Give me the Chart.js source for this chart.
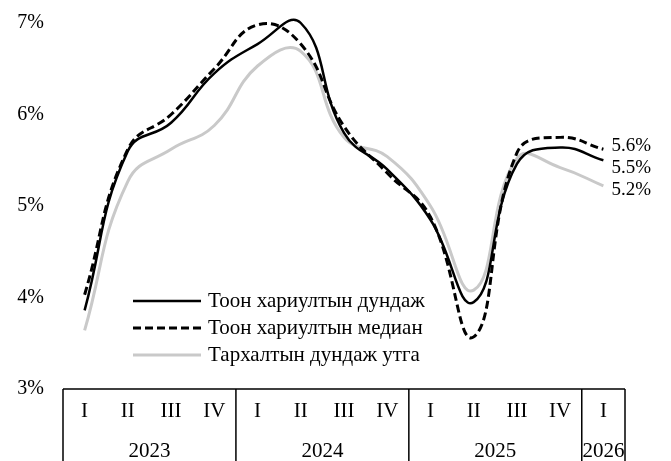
<!DOCTYPE html>
<html>
<head>
<meta charset="utf-8">
<script src="https://cdn.jsdelivr.net/npm/chart.js@4"></script>
<style>
  html, body { margin: 0; padding: 0; background: #fff; }
  #wrap { width: 671px; height: 461px; }
</style>
</head>
<body>
<div id="wrap"><canvas id="expChart" width="671" height="461"></canvas></div>
<script>
// Улирал, он
const quarters = ['I', 'II', 'III', 'IV', 'I', 'II', 'III', 'IV', 'I', 'II', 'III', 'IV', 'I'];
const years = [
    { label: '2023', from: 0, to: 3 },
    { label: '2024', from: 4, to: 7 },
    { label: '2025', from: 8, to: 11 },
    { label: '2026', from: 12, to: 12 }
];
const yTicks = [3, 4, 5, 6, 7];

// Цувралууд (%)
const meanValues   = [3.86, 5.60, 5.91, 6.45, 6.77, 7.00, 5.80, 5.40, 4.85, 3.95, 5.46, 5.64, 5.50];
const medianValues = [4.03, 5.62, 6.00, 6.50, 6.98, 6.77, 5.87, 5.36, 4.88, 3.57, 5.58, 5.75, 5.62];
const distValues   = [3.64, 5.27, 5.62, 5.88, 6.53, 6.69, 5.75, 5.54, 5.00, 4.08, 5.52, 5.42, 5.22];

const seriesNames = ['Тоон хариултын дундаж', 'Тоон хариултын медиан', 'Тархалтын дундаж утга'];

const SERIF = '"Liberation Serif", "Times New Roman", serif';

// x тэнхлэгийн хүснэгт, легенд, төгсгөлийн шошго
const tablePlugin = {
    id: 'tablePlugin',
    afterDraw(chart) {
        const ctx = chart.ctx;
        const x = chart.scales.x;
        const area = chart.chartArea;
        const half = (x.getPixelForValue(1) - x.getPixelForValue(0)) / 2;
        const bottom = chart.height;

        ctx.save();
        ctx.strokeStyle = '#000';
        ctx.lineWidth = 1.5;
        ctx.beginPath();
        ctx.moveTo(area.left, area.bottom);
        ctx.lineTo(area.right, area.bottom);
        years.forEach(function(y) {
            const l = x.getPixelForValue(y.from) - half;
            const r = x.getPixelForValue(y.to) + half;
            ctx.moveTo(l, area.bottom);
            ctx.lineTo(l, bottom);
            ctx.moveTo(r, area.bottom);
            ctx.lineTo(r, bottom);
        });
        ctx.stroke();

        ctx.fillStyle = '#000';
        ctx.font = '21px ' + SERIF;
        ctx.textAlign = 'center';
        ctx.textBaseline = 'middle';
        quarters.forEach(function(q, i) {
            ctx.fillText(q, x.getPixelForValue(i), area.bottom + 22);
        });
        years.forEach(function(y) {
            const c = (x.getPixelForValue(y.from) + x.getPixelForValue(y.to)) / 2;
            ctx.fillText(y.label, c, area.bottom + 62);
        });

        // Легенд
        ctx.textAlign = 'left';
        chart.data.datasets.forEach(function(ds, i) {
            const ly = 301 + i * 27;
            ctx.strokeStyle = ds.borderColor;
            ctx.lineWidth = ds.borderWidth;
            ctx.setLineDash(ds.borderDash || []);
            ctx.beginPath();
            ctx.moveTo(133, ly);
            ctx.lineTo(201, ly);
            ctx.stroke();
            ctx.setLineDash([]);
            ctx.fillText(ds.label, 208, ly);
        });

        // Сүүлийн утгын шошго
        ctx.font = '19px ' + SERIF;
        const last = quarters.length - 1;
        const ends = chart.data.datasets.map(function(ds, i) {
            const meta = chart.getDatasetMeta(i);
            return { v: ds.data[last], y: meta.data[last].y, x: meta.data[last].x };
        }).sort(function(a, b) { return a.y - b.y; });
        let prev = -Infinity;
        ends.forEach(function(e) {
            let ty = Math.max(e.y - 3, prev + 22);
            prev = ty;
            ctx.fillText(e.v.toFixed(1) + '%', e.x + 8, ty);
        });
        ctx.restore();
    }
};

const ctx = document.getElementById('expChart').getContext('2d');

new Chart(ctx, {
    type: 'line',
    data: {
        labels: quarters,
        datasets: [{
            label: seriesNames[0],
            data: meanValues,
            borderColor: '#000000',
            borderWidth: 2.5,
            tension: 0.45,
            clip: false
        }, {
            label: seriesNames[1],
            data: medianValues,
            borderColor: '#000000',
            borderWidth: 3,
            borderDash: [8, 4],
            tension: 0.45,
            clip: false
        }, {
            label: seriesNames[2],
            data: distValues,
            borderColor: '#c9c9c9',
            borderWidth: 3,
            tension: 0.45,
            clip: false
        }]
    },
    options: {
        responsive: false,
        animation: false,
        layout: {
            padding: { top: 16, right: 46, left: 0, bottom: 0 }
        },
        elements: {
            point: { radius: 0 },
            line: { capBezierPoints: false }
        },
        plugins: {
            legend: { display: false },
            tooltip: { enabled: false }
        },
        scales: {
            x: {
                offset: true,
                grid: { display: false },
                border: { display: false },
                ticks: { display: false },
                afterFit: function(scale) { scale.height = 72; }
            },
            y: {
                min: 3,
                max: 7,
                grid: { display: false },
                border: { display: false },
                afterBuildTicks: function(scale) {
                    scale.ticks = yTicks.map(function(v) { return { value: v }; });
                },
                afterFit: function(scale) { scale.width = 63; },
                ticks: {
                    color: '#000',
                    padding: 11,
                    font: { family: SERIF, size: 20 },
                    callback: function(v) { return v + '%'; }
                }
            }
        }
    },
    plugins: [tablePlugin]
});
</script>
</body>
</html>
